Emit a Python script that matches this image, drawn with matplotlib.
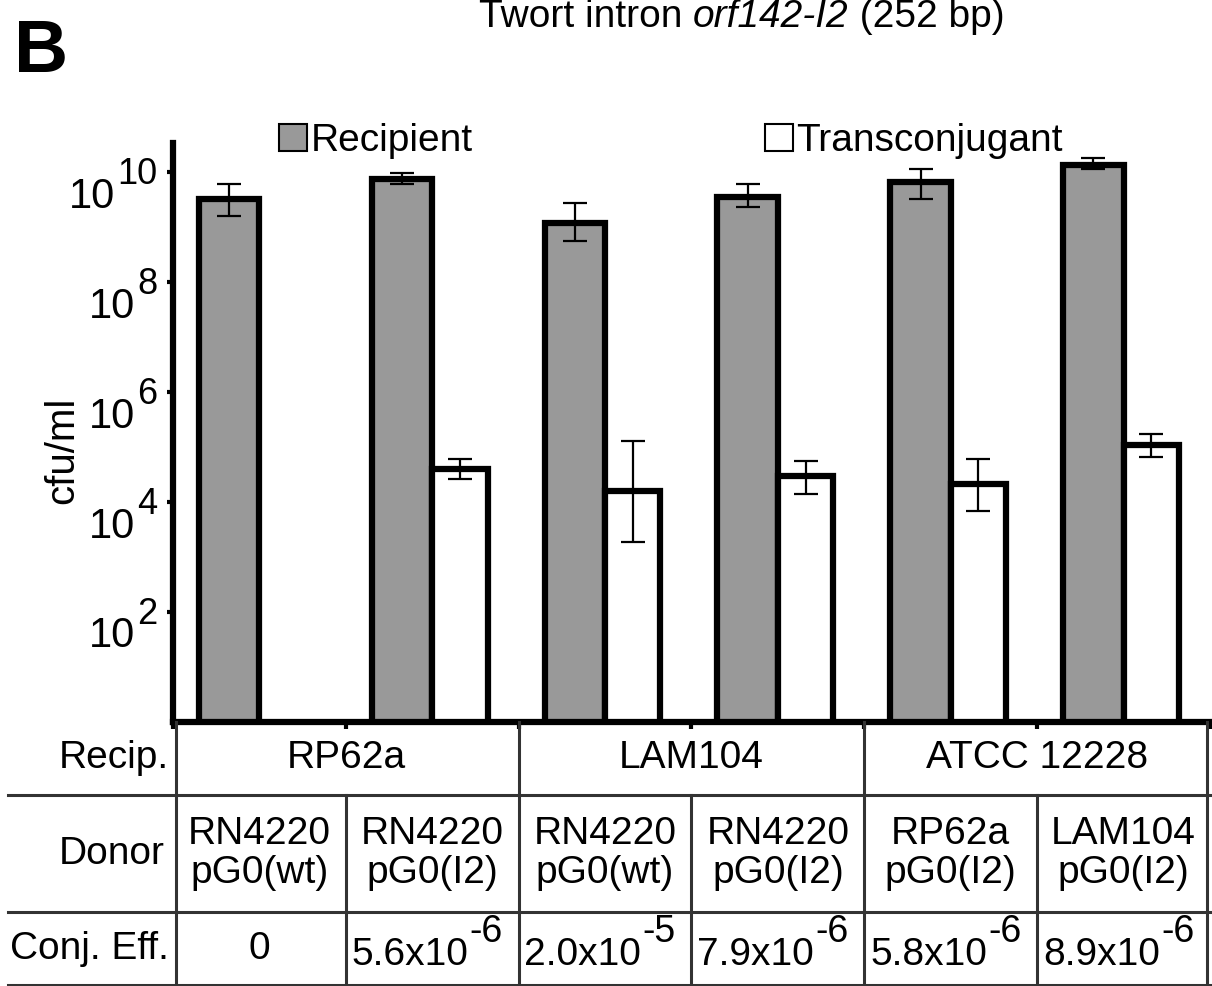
import matplotlib.pyplot as plt
import numpy as np

plt.rcParams['font.family'] = ['Liberation Sans', 'DejaVu Sans']

# bar data (cfu/ml)
recipient = [3.2e9, 7.4e9, 1.2e9, 3.6e9, 6.5e9, 1.35e10]
recip_lo = [1.6e9, 6.0e9, 5.5e8, 2.3e9, 3.2e9, 1.12e10]
recip_hi = [6.0e9, 9.5e9, 2.8e9, 6.2e9, 1.12e10, 1.78e10]
transconj = [0, 4.0e4, 1.6e4, 3.0e4, 2.1e4, 1.1e5]
trans_lo = [0, 2.6e4, 1.9e3, 1.4e4, 6.9e3, 6.5e4]
trans_hi = [0, 6.0e4, 1.3e5, 5.5e4, 6.0e4, 1.7e5]

ytick_exp = [2, 4, 6, 8, 10]

recip_groups = ['RP62a', 'LAM104', 'ATCC 12228']
donors = ['RN4220\npG0(wt)', 'RN4220\npG0(I2)', 'RN4220\npG0(wt)',
          'RN4220\npG0(I2)', 'RP62a\npG0(I2)', 'LAM104\npG0(I2)']
eff_mant = ['0', '5.6x10', '2.0x10', '7.9x10', '5.8x10', '8.9x10']
eff_exp = ['', '-6', '-5', '-6', '-6', '-6']

W, H = 1212, 986
fig = plt.figure(figsize=(W / 100, H / 100), dpi=100)

x0, x1, ytop, ybot = 173, 1210, 143, 722
ax = fig.add_axes([x0 / W, 1 - ybot / H, (x1 - x0) / W, (ybot - ytop) / H])

x = np.arange(len(recipient))
gw, tw = 0.35, 0.32
r = np.array(recipient)
t = np.array(transconj)
gbars = ax.bar(x - gw / 2, r, gw, color='#999999', edgecolor='black', linewidth=4.5, zorder=2)
ax.errorbar(x - gw / 2, r, yerr=[r - np.array(recip_lo), np.array(recip_hi) - r],
            fmt='none', ecolor='black', elinewidth=1.6, capsize=8.5, capthick=1.6, zorder=3)
mask = t > 0
wbars = ax.bar(x[mask] + tw / 2, t[mask], tw, color='white', edgecolor='black', linewidth=4.5, zorder=2)
ax.errorbar(x[mask] + tw / 2, t[mask],
            yerr=[t[mask] - np.array(trans_lo)[mask], np.array(trans_hi)[mask] - t[mask]],
            fmt='none', ecolor='black', elinewidth=1.6, capsize=8.5, capthick=1.6, zorder=3)

ax.set_yscale('log')
ax.set_ylim(1, 10 ** 10.53)
ax.set_xlim(-0.5, len(x) - 0.5)
for s in ['top', 'right']:
    ax.spines[s].set_visible(False)
for s in ['left', 'bottom']:
    ax.spines[s].set_linewidth(4.5)
ax.set_yticks([10.0 ** e for e in ytick_exp])
ax.yaxis.set_minor_locator(plt.NullLocator())
ax.set_yticklabels([])
ax.tick_params(axis='y', length=4, width=3, direction='out')
ax.set_xticks(np.arange(-0.5, len(x), 1.0))
ax.set_xticklabels([])
ax.tick_params(axis='x', length=5, width=3, direction='out')

# y tick labels: big "10" with a big exponent
for e in ytick_exp:
    sup = ax.annotate(str(e), xy=(0, 10.0 ** e), xycoords=('axes fraction', 'data'),
                      xytext=(-11, -2), textcoords='offset points',
                      ha='right', va='center', fontsize=26)
    ax.annotate('10', xy=(0, 0), xycoords=sup, xytext=(-2, -3),
                textcoords='offset points', ha='right', va='center', fontsize=30)

ax.set_ylabel('cfu/ml', fontsize=29)
ax.yaxis.set_label_coords(-0.088, 0.47)

# legend
leg = fig.legend([gbars, wbars], ['Recipient', 'Transconjugant'], loc='center left',
                 bbox_to_anchor=(279 / W, 1 - 141 / H), ncol=2, frameon=False,
                 fontsize=28, handlelength=0.72, handleheight=0.72,
                 handletextpad=0.1, columnspacing=7.5, borderpad=0, borderaxespad=0)
for h in leg.legend_handles:
    h.set_linewidth(1.5)

# title and panel letter
tt = fig.text(479 / W, 1 - 27 / H, 'Twort intron ', fontsize=28, va='baseline', ha='left')
t2 = ax.annotate('orf142-I2', xy=(1, 0), xycoords=tt, fontsize=28, style='italic',
                 ha='left', va='bottom', annotation_clip=False)
ax.annotate(' (252 bp)', xy=(1, 0), xycoords=t2, fontsize=28, ha='left', va='bottom',
            annotation_clip=False)
fig.text(14 / W, 1 - 72 / H, 'B', fontsize=54, fontweight='bold', va='baseline')

# table under the axis
tab = fig.add_axes([x0 / W, 0, (x1 - x0) / W, (H - ybot) / H])
tab.set_xlim(-0.5, len(x) - 0.5)
tab.set_ylim(0, H - ybot)
tab.axis('off')
lc = '#333333'
xl = -0.5 - (x0 - 8) / (x1 - x0) * len(x)
r1, r2 = H - 795, H - 912
kw = dict(color=lc, lw=2.2, clip_on=False)
tab.plot([xl, 5.5], [r1, r1], **kw)
tab.plot([xl, 5.5], [r2, r2], **kw)
tab.plot([xl, 5.5], [1, 1], **kw)
tab.plot([-0.48, -0.48], [0, H - ybot], **kw)
tab.plot([5.48, 5.48], [0, H - ybot], **kw)
for b in [1.5, 3.5]:
    tab.plot([b, b], [0, H - ybot], **kw)
for b in [0.5, 2.5, 4.5]:
    tab.plot([b, b], [0, r1], **kw)

fs = 28
yr1 = (H - ybot + r1) / 2
yr2 = (r1 + r2) / 2
yr3 = r2 / 2
lab_kw = dict(fontsize=fs, ha='right', va='center')
tab.annotate('Recip.', xy=(-0.5, yr1), xytext=(-3, 0), textcoords='offset points', **lab_kw)
tab.annotate('Donor', xy=(-0.5, yr2), xytext=(-6, 0), textcoords='offset points', **lab_kw)
tab.annotate('Conj. Eff.', xy=(-0.5, yr3), xytext=(-3, 0), textcoords='offset points', **lab_kw)
for i, g in enumerate(recip_groups):
    tab.text(2 * i + 0.5, yr1, g, fontsize=fs, ha='center', va='center')
for i, d in enumerate(donors):
    tab.text(i, yr2, d, fontsize=fs, ha='center', va='center', linespacing=1.1)
for i, (m, e) in enumerate(zip(eff_mant, eff_exp)):
    if e == '':
        tab.text(i, yr3, m, fontsize=fs, ha='center', va='center')
        continue
    base = tab.annotate(m, xy=(i, yr3), xytext=(26, -4), textcoords='offset points',
                        fontsize=fs, ha='right', va='center')
    tab.annotate(e, xy=(1, 1), xycoords=base, xytext=(1, -10), textcoords='offset points',
                 fontsize=27, ha='left', va='bottom', annotation_clip=False)

fig.savefig('out.png', dpi=100)
